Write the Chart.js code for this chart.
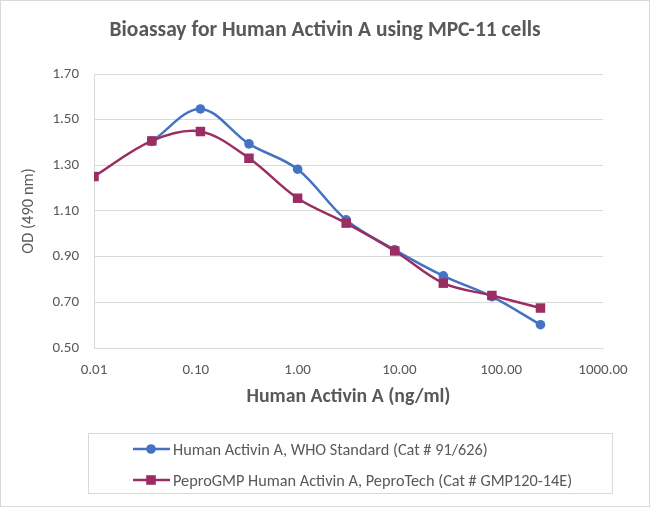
<!DOCTYPE html>
<html>
<head>
<meta charset="utf-8">
<script src="https://cdn.jsdelivr.net/npm/chart.js@4"></script>
<style>
  html, body { margin: 0; padding: 0; background: #fff; }
  #wrap { position: relative; width: 650px; height: 507px; overflow: hidden; }
  #frame { position: absolute; left: 0; top: 0; width: 650px; height: 507px; box-sizing: border-box; border: 1px solid #d9d9d9; pointer-events: none; }
  #title { position: absolute; left: 0; top: 16px; width: 650px; text-align: center; font-family: Carlito, Lato, "Liberation Sans", sans-serif; font-weight: bold; font-size: 21.5px; line-height: 26px; color: #595959; }
  #legend { position: absolute; left: 88px; top: 433px; width: 525px; height: 61px; box-sizing: border-box; border: 1px solid #d9d9d9; font-family: Carlito, Lato, "Liberation Sans", sans-serif; font-size: 16.3px; color: #595959; }
  .row { position: absolute; left: 44px; height: 20px; display: flex; align-items: center; white-space: nowrap; }
  .row svg { margin-right: 3px; }
</style>
</head>
<body>
<div id="wrap">
  <canvas id="c" width="650" height="507"></canvas>
  <div id="title"></div>
  <div id="legend"></div>
  <div id="frame"></div>
</div>
<script>
const TITLE = "Bioassay for Human Activin A using MPC-11 cells";
const X_TITLE = "Human Activin A (ng/ml)";
const Y_TITLE = "OD (490 nm)";
const concentrations = [0.01, 0.037, 0.111, 0.333, 1, 3, 9, 27, 81, 243];
const whoStandard = [null, 1.405, 1.547, 1.394, 1.283, 1.061, 0.930, 0.816, 0.725, 0.602];
const peproGMP = [1.251, 1.407, 1.448, 1.331, 1.156, 1.047, 0.925, 0.784, 0.730, 0.675];
const xTicks = [0.01, 0.1, 1, 10, 100, 1000];
const yTicks = [0.5, 0.7, 0.9, 1.1, 1.3, 1.5, 1.7];
const seriesNames = ["Human Activin A, WHO Standard (Cat # 91/626)", "PeproGMP Human Activin A, PeproTech (Cat # GMP120-14E)"];
const seriesColors = ["#4472C4", "#9B2D62"];

const FONT = "Carlito, Lato, 'Liberation Sans', sans-serif";
const TXT = "#595959";
const GRID = "#d9d9d9";

document.getElementById('title').textContent = TITLE;

function toPoints(vals) {
  return concentrations.map((x, i) => ({x: x, y: vals[i]})).filter(p => p.y !== null);
}

new Chart(document.getElementById('c'), {
  type: 'line',
  data: {
    datasets: [
      { label: seriesNames[0], data: toPoints(whoStandard), borderColor: seriesColors[0], backgroundColor: seriesColors[0],
        borderWidth: 2.5, pointStyle: 'circle', pointRadius: 4.8, pointBorderWidth: 0, tension: 0.35, order: 1 },
      { label: seriesNames[1], data: toPoints(peproGMP), borderColor: seriesColors[1], backgroundColor: seriesColors[1],
        borderWidth: 2.5, pointStyle: 'rect', pointRadius: 6.7, pointBorderWidth: 0, tension: 0.35, order: 0 }
    ]
  },
  options: {
    responsive: false,
    animation: false,
    layout: { padding: { left: 0, right: 47, top: 74, bottom: 98 } },
    plugins: {
      legend: { display: false },
      tooltip: { enabled: false },
      title: { display: false }
    },
    scales: {
      x: {
        type: 'logarithmic', min: 0.01, max: 1000,
        afterBuildTicks: s => { s.ticks = xTicks.map(v => ({ value: v })); },
        afterFit: s => { s.height = 61; },
        grid: { display: false, drawTicks: false },
        border: { display: true, color: GRID, width: 1 },
        ticks: { color: TXT, font: { family: FONT, size: 15 }, padding: 13, maxRotation: 0, autoSkip: false,
                 callback: v => Number(v).toFixed(2) },
        title: { display: true, text: X_TITLE, color: TXT, font: { family: FONT, size: 19.8, weight: 'bold', lineHeight: 1.2 },
                 padding: { top: 0, bottom: 0 } }
      },
      y: {
        min: 0.5, max: 1.7,
        afterBuildTicks: s => { s.ticks = yTicks.map(v => ({ value: v })); },
        afterFit: s => { s.width = 94; },
        grid: { color: GRID, drawTicks: false, lineWidth: 1 },
        border: { display: true, color: GRID, width: 1 },
        ticks: { color: TXT, font: { family: FONT, size: 15 }, padding: 15, callback: v => Number(v).toFixed(2) },
        title: { display: true, text: Y_TITLE, color: TXT, font: { family: FONT, size: 16.5, lineHeight: 1.2 },
                 padding: { top: 19, bottom: 0 } }
      }
    }
  }
});

// HTML legend built from the series names/colors
const legend = document.getElementById('legend');
seriesNames.forEach((name, i) => {
  const row = document.createElement('div');
  row.className = 'row';
  row.style.top = (i === 0 ? 5 : 36) + 'px';
  const c = seriesColors[i];
  const marker = i === 0
    ? `<circle cx="18" cy="10" r="4.8" fill="${c}"/>`
    : `<rect x="13.2" y="5.2" width="9.6" height="9.6" fill="${c}"/>`;
  row.innerHTML = `<svg width="37" height="20"><line x1="0" y1="10" x2="37" y2="10" stroke="${c}" stroke-width="2.5"/>${marker}</svg><span>${name}</span>`;
  legend.appendChild(row);
});
</script>
</body>
</html>
